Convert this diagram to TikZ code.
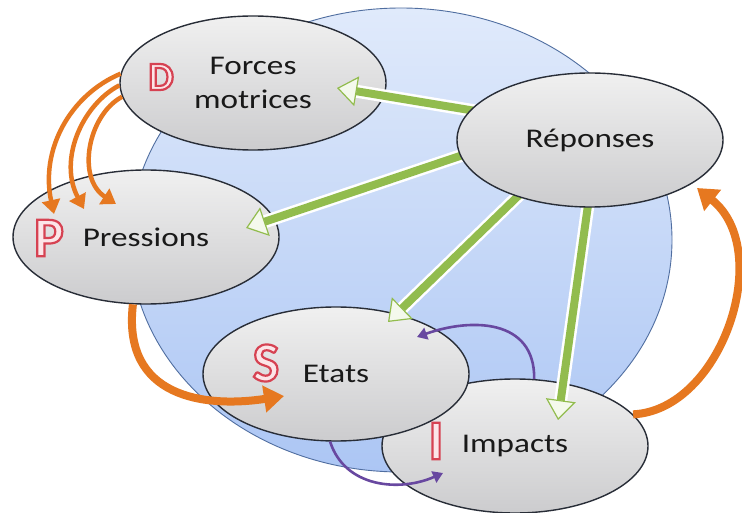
\documentclass[tikz,border=0pt]{standalone}
\usepackage{fontspec}
\setmainfont{Carlito}[FakeStretch=1.23]
\newfontfamily\letterfont{Carlito}
\usetikzlibrary{shapes.geometric,arrows.meta}
\definecolor{gline}{RGB}{146,188,78}
\definecolor{ghead}{RGB}{244,249,236}
\definecolor{ora}{RGB}{230,120,32}
\definecolor{pur}{RGB}{104,72,160}
\definecolor{edgec}{RGB}{40,45,55}
\definecolor{gtop}{RGB}{240,240,240}
\definecolor{gbot}{RGB}{204,204,206}
\definecolor{btop}{RGB}{224,234,251}
\definecolor{bbot}{RGB}{172,198,244}
\definecolor{bedge}{RGB}{80,110,160}
\newcommand{\hollow}[1]{\special{pdf:bcolor [0.99 0.90 0.91] [0.84 0.26 0.32]}\special{pdf:literal direct 2 Tr 2.2 w}#1\special{pdf:literal direct 0 Tr}\special{pdf:ecolor}}
\pgfdeclarelayer{bg}
\pgfdeclarelayer{front}
\pgfsetlayers{bg,main,front}
\begin{document}
\begin{tikzpicture}[x=1pt,y=-1pt,
  bub/.style={ellipse, draw=edgec, line width=1.4pt, minimum width=266pt, minimum height=134pt,
    inner sep=0pt, top color=gtop, bottom color=gbot, align=center,
    font=\fontsize{27}{34}\selectfont, text=black!90},
  gborder/.style={line width=13pt, draw=white, shorten >=16pt, shorten <=-14pt},
  gshaft/.style={line width=8pt, draw=gline, shorten <=-14pt,
    -{Triangle[length=20pt,width=30pt,fill=ghead,line width=1.2pt]}},
  oarrow/.style={line width=4.5pt, draw=ora, -{Triangle[length=14pt,width=18pt]}},
  obig/.style={line width=8pt, draw=ora, -{Triangle[length=20pt,width=26pt]}},
  parrow/.style={line width=2.6pt, draw=pur, -{Triangle[length=10pt,width=12pt]}},
  letter/.style={inner sep=0pt, font=\letterfont\bfseries\fontsize{56}{56}\selectfont}]
\useasboundingbox (0,0) rectangle (742,513);
\begin{pgfonlayer}{bg}
  \fill[white] (0,0) rectangle (742,513);
  \path[draw=bedge, line width=0.9pt, top color=btop, bottom color=bbot] (401,240) ellipse [x radius=271, y radius=232];
\end{pgfonlayer}
% nodes
\node[bub] (F) at (253,83) {Forces\\motrices};
\node[bub] (P) at (146,237) {Pressions};
\node[bub] (I) at (515,446) {Impacts};
\node[bub] (S) at (336,374) {Etats};
\begin{pgfonlayer}{front}
  \node[bub] (R) at (590,140) {Réponses};
\end{pgfonlayer}
% tips
\coordinate (tF) at (337,88);
\coordinate (tP) at (246,228);
\coordinate (tS) at (388,322);
\coordinate (tI) at (558,420);
\coordinate (tP1) at (54,214);
\coordinate (tP2) at (84,209);
\coordinate (tP3) at (116,204);
\coordinate (tSo) at (284,396);
\coordinate (tRo) at (697,188);
\coordinate (tSp) at (417,337);
\coordinate (tIp) at (443,473);
% orange arrows
\draw[oarrow] (F.176) .. controls (70,95) and (40,150) .. (tP1);
\draw[oarrow] (F.181) .. controls (82,105) and (58,160) .. (tP2);
\draw[oarrow] (F.186) .. controls (88,115) and (76,178) .. (tP3);
\draw[obig] (P.259) .. controls (122,398) and (205,408) .. (tSo);
\draw[obig] (I.15) .. controls (722,410) and (775,250) .. (tRo);
% purple arrows
\draw[parrow] (I.74) .. controls (535,318) and (470,318) .. (tSp);
\draw[parrow] (S.265) .. controls (345,488) and (400,492) .. (tIp);
% green arrows
\draw[gborder] (R.166) -- (tF);
\draw[gshaft] (R.166) -- (tF);
\draw[gborder] (R.187) -- (tP);
\draw[gshaft] (R.187) -- (tP);
\draw[gborder] (R.218) -- (tS);
\draw[gshaft] (R.218) -- (tS);
\draw[gborder] (R.268) -- (tI);
\draw[gshaft] (R.268) -- (tI);
% letters
\begin{pgfonlayer}{front}
  \node[letter, font=\letterfont\bfseries\fontsize{40}{40}\selectfont] (lD) at (161,77) {\hollow{D}};
  \node[letter] (lP) at (49,238) {\hollow{P}};
  \node[letter] (lS) at (266,363) {\hollow{S}};
  \node[letter] (lI) at (436,441) {\hollow{I}};
\end{pgfonlayer}
\end{tikzpicture}
\end{document}
